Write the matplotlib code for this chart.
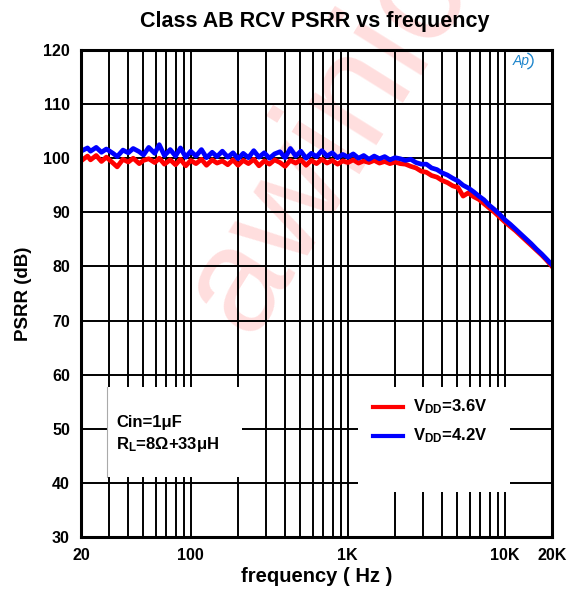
import numpy as np
import matplotlib
matplotlib.use('Agg')
import matplotlib.pyplot as plt
from matplotlib.patches import Rectangle, Arc
from matplotlib.lines import Line2D
from matplotlib.ticker import FixedLocator, NullFormatter

plt.rcParams.update({
    'font.family': ['Liberation Sans', 'DejaVu Sans'],
    'font.weight': 'bold',
    'mathtext.fontset': 'custom',
    'mathtext.rm': 'Liberation Sans:bold',
    'mathtext.bf': 'Liberation Sans:bold',
    'mathtext.it': 'Liberation Sans:bold',
})

RED = '#ff0000'
BLUE = '#0000ff'

# ---- data ----
freq = [20, 22, 23, 25, 27, 29, 32, 34, 37, 40, 43, 47, 50, 54, 59, 63, 68, 74, 80, 86, 93,
        100, 108, 117, 126, 137, 147, 159, 172, 186, 200,
        216, 233, 252, 272, 294, 317, 342, 370, 399, 431, 466, 503, 543, 586, 633, 684, 738,
        797, 861, 930, 1004, 1084, 1171, 1264, 1365, 1474, 1592, 1719, 1856, 2000,
        2160, 2330, 2520, 2720, 2940, 3170, 3420, 3700, 3990, 4310, 4660, 5030, 5430, 5860,
        6330, 6840, 7380, 7970, 8610, 9300, 10040, 10840, 11710, 12640, 13650, 14740, 15920,
        17190, 18560, 20000]

psrr_42 = [101.3, 101.9, 101.3, 102.0, 101.1, 101.7, 100.9, 100.3, 101.5, 101.0, 101.8, 101.2,
           100.6, 102.0, 100.9, 102.5, 100.5, 101.6, 100.4, 101.9, 100.2,
           101.3, 100.4, 101.6, 100.1, 101.1, 100.3, 101.3, 100.2, 101.0, 99.9,
           100.9, 100.1, 101.4, 100.2, 101.0, 100.0, 100.8, 101.2, 100.1, 101.8, 100.4, 101.3,
           100.0, 100.9, 100.3, 101.4, 100.4, 101.0, 100.1, 100.7, 100.2, 100.8, 100.0, 100.5,
           99.8, 100.4, 99.9, 100.3, 99.7, 100.1,
           99.9, 99.6, 99.8, 99.2, 98.9, 98.9, 98.2, 97.9, 97.3, 96.9, 96.3, 95.8, 95.0, 94.5,
           93.8, 93.0, 92.3, 91.3, 90.5, 89.6, 88.6, 87.8, 86.9, 86.0, 85.1, 84.2, 83.2,
           82.3, 81.3, 80.3]

psrr_36 = [99.5, 100.4, 99.7, 100.5, 99.4, 100.2, 99.1, 98.4, 99.8, 99.3, 100.0, 99.0,
           99.6, 99.9, 99.2, 100.0, 98.9, 99.7, 98.8, 99.8, 98.6,
           99.6, 99.0, 99.8, 98.7, 99.7, 99.1, 99.5, 98.8, 99.7, 98.7,
           99.6, 99.0, 99.8, 98.6, 99.5, 98.9, 99.7, 99.2, 98.5, 99.6, 99.1, 99.7,
           98.7, 99.6, 99.0, 99.8, 99.1, 99.6, 98.9, 99.5, 99.2, 99.7, 99.1, 99.5,
           99.2, 99.6, 99.1, 99.4, 99.0, 99.3,
           99.0, 98.9, 98.5, 98.2, 97.6, 97.4, 96.8, 96.5, 95.9, 95.5, 94.9, 94.6, 93.0, 93.6,
           92.9, 92.4, 91.6, 90.8, 90.0, 89.1, 88.2, 87.4, 86.6, 85.7, 84.8, 83.9, 83.0,
           82.1, 81.1, 80.0]

minor_freqs = [30, 40, 50, 60, 70, 80, 90, 200, 300, 400, 500, 600, 700, 800, 900,
               2000, 3000, 4000, 5000, 6000, 7000, 8000, 9000]
xtick_vals = [20, 100, 1000, 10000, 20000]
xtick_labels = ['20', '100', '1K', '10K', '20K']
ytick_vals = [30, 40, 50, 60, 70, 80, 90, 100, 110, 120]

W, H = 571, 594
fig = plt.figure(figsize=(W / 100, H / 100), dpi=100)
ax = fig.add_axes([81 / W, 1 - 537 / H, 471 / W, 487 / H])
ax.patch.set_alpha(0)

ax.set_xscale('log')
ax.set_xlim(20, 20000)
ax.set_ylim(30, 120)

# grid
ax.xaxis.set_major_locator(FixedLocator(xtick_vals))
ax.xaxis.set_minor_locator(FixedLocator(minor_freqs))
ax.xaxis.set_minor_formatter(NullFormatter())
ax.set_xticklabels(xtick_labels)
ax.set_yticks(ytick_vals)
ax.grid(True, which='both', color='black', lw=1.4, zorder=1)
ax.tick_params(which='both', length=0, labelsize=11.5, pad=8)
for lab in ax.get_xticklabels() + ax.get_yticklabels():
    lab.set_fontweight('bold')
for s in ax.spines.values():
    s.set_linewidth(2.2)
    s.set_zorder(6)

# watermark (runs off the top edge, as in the original)
tr = fig.transFigure
ax.text(250 / W, 1 - 338 / H, 'awinic', transform=tr, rotation=58,
        rotation_mode='anchor', fontsize=108, color='#ffdede', fontweight='normal',
        ha='left', va='baseline', zorder=0, clip_on=False)

ax.plot(freq, psrr_36, color=RED, lw=3.4, zorder=3)
ax.plot(freq, psrr_42, color=BLUE, lw=3.4, zorder=4)

# white boxes over grid
ax.add_patch(Rectangle((107 / W, 1 - 477 / H), 135 / W, 90 / H, transform=tr,
                       facecolor='white', edgecolor='none', zorder=5, clip_on=False))
ax.add_line(Line2D([107 / W, 107 / W], [1 - 477 / H, 1 - 387 / H], transform=tr,
                   color='#aaaaaa', lw=0.8, zorder=5))
ax.add_patch(Rectangle((358 / W, 1 - 492 / H), 152 / W, 105 / H, transform=tr,
                       facecolor='white', edgecolor='none', zorder=5, clip_on=False))

fig.text(116 / W, 1 - 422 / H, 'Cin=1\u03bcF', fontsize=12, fontweight='bold',
         va='center', ha='left', zorder=7)
fig.text(116 / W, 1 - 445 / H, 'R$_\\mathregular{L}$=8\u03a9+33\u03bcH',
         fontsize=12, fontweight='bold', va='center', ha='left', zorder=7)

for yy, col, lab in [(407, RED, '3.6V'), (436, BLUE, '4.2V')]:
    fig.add_artist(Line2D([373 / W, 403 / W], [1 - yy / H, 1 - yy / H], color=col, lw=3, zorder=7))
    fig.text(413 / W, 1 - yy / H, r'V$_\mathregular{DD}$=' + lab, fontsize=12,
             fontweight='bold', va='center', ha='left', zorder=7)

# AP logo
fig.text(521 / W, 1 - 61 / H, 'Ap', fontsize=10, color='#1f86cc', style='italic',
         fontweight='normal', ha='center', va='center')
fig.add_artist(Arc((526 / W, 1 - 61 / H), 14 / W, 16 / H, theta1=-80, theta2=80,
                   transform=tr, color='#1f86cc', lw=1))

fig.text(315 / W, 1 - 21 / H, 'Class AB RCV PSRR vs frequency', fontsize=15.5,
         fontweight='bold', ha='center', va='center')
ax.set_xlabel('frequency ( Hz )', fontsize=14.5, fontweight='bold', labelpad=3)
ax.set_ylabel('PSRR (dB)', fontsize=13.5, fontweight='bold', labelpad=8)

fig.savefig('out.png', dpi=100)
